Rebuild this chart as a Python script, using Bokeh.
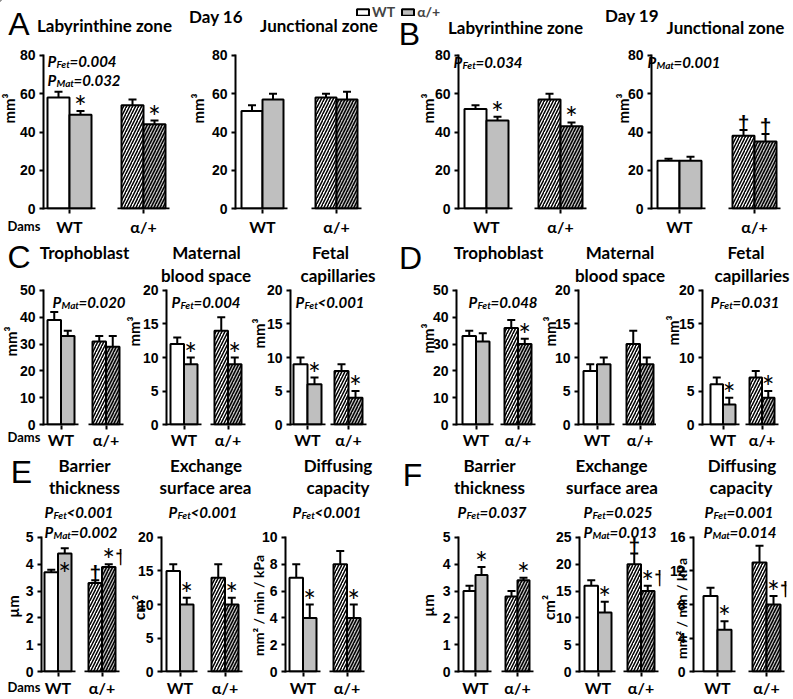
import math
from bokeh.plotting import figure
from bokeh.models import (Range1d, FixedTicker, Label, ColumnDataSource, Whisker,
                          TeeHead, Legend, LegendItem)
from bokeh.layouts import column, row
from bokeh.embed import file_html
from bokeh.resources import INLINE
from bokeh.core.properties import value

# ============================ DATA ============================
dam_groups = ["WT", "α/+"]          # x tick labels (genotype of dams)
fetal_genotypes = ["WT", "α/+"]     # legend (genotype of fetuses)

# bar order: [WT dam/WT fetus, WT dam/α fetus, α dam/WT fetus, α dam/α fetus]
d16_lab_mean = [58, 49, 54, 44]
d16_lab_sem = [3, 2, 3, 2]
d16_lab_sig = ["", "*", "", "*"]
d16_lab_p = [("Fet", "=0.004"), ("Mat", "=0.032")]

d16_jz_mean = [51, 57, 58, 57]
d16_jz_sem = [3, 3, 2, 4]
d16_jz_sig = ["", "", "", ""]
d16_jz_p = []

d19_lab_mean = [52, 46, 57, 43]
d19_lab_sem = [2, 2, 3, 2]
d19_lab_sig = ["", "*", "", "*"]
d19_lab_p = [("Fet", "=0.034")]

d19_jz_mean = [25, 25, 38, 35]
d19_jz_sem = [1, 2, 3, 4]
d19_jz_sig = ["", "", "†", "†"]
d19_jz_p = [("Mat", "=0.001")]

d16_tro_mean = [39, 33, 31, 29]
d16_tro_sem = [3, 2, 2, 4]
d16_tro_sig = ["", "", "", ""]
d16_tro_p = [("Mat", "=0.020")]

d16_mbs_mean = [12, 9, 14, 9]
d16_mbs_sem = [1, 1, 2, 1]
d16_mbs_sig = ["", "*", "", "*"]
d16_mbs_p = [("Fet", "=0.004")]

d16_fc_mean = [9, 6, 8, 4]
d16_fc_sem = [1, 1, 1, 1]
d16_fc_sig = ["", "*", "", "*"]
d16_fc_p = [("Fet", "<0.001")]

d19_tro_mean = [33, 31, 36, 30]
d19_tro_sem = [2, 3, 3, 2]
d19_tro_sig = ["", "", "", "*"]
d19_tro_p = [("Fet", "=0.048")]

d19_mbs_mean = [8, 9, 12, 9]
d19_mbs_sem = [1, 1, 2, 1]
d19_mbs_sig = ["", "", "", ""]
d19_mbs_p = []

d19_fc_mean = [6, 3, 7, 4]
d19_fc_sem = [1, 1, 1, 1]
d19_fc_sig = ["", "*", "", "*"]
d19_fc_p = [("Fet", "=0.031")]

d16_bt_mean = [3.7, 4.4, 3.3, 3.9]
d16_bt_sem = [0.1, 0.2, 0.1, 0.1]
d16_bt_sig = ["", "*", "†", "*†"]
d16_bt_p = [("Fet", "<0.001"), ("Mat", "=0.002")]

d16_sa_mean = [15, 10, 14, 10]
d16_sa_sem = [1, 1, 2, 1]
d16_sa_sig = ["", "*", "", "*"]
d16_sa_p = [("Fet", "<0.001")]

d16_dc_mean = [7, 4, 8, 4]
d16_dc_sem = [1, 1, 1, 1]
d16_dc_sig = ["", "*", "", "*"]
d16_dc_p = [("Fet", "<0.001")]

d19_bt_mean = [3.0, 3.6, 2.8, 3.4]
d19_bt_sem = [0.2, 0.3, 0.2, 0.1]
d19_bt_sig = ["", "*", "", "*"]
d19_bt_p = [("Fet", "=0.037")]

d19_sa_mean = [16, 11, 20, 15]
d19_sa_sem = [1, 2, 2, 1]
d19_sa_sig = ["", "*", "†", "*†"]
d19_sa_p = [("Fet", "=0.025"), ("Mat", "=0.013")]

d19_dc_mean = [9, 5, 13, 8]
d19_dc_sem = [1, 1, 2, 1]
d19_dc_sig = ["", "*", "", "*†"]
d19_dc_p = [("Fet", "=0.001"), ("Mat", "=0.014")]

ticks_zone = [0, 20, 40, 60, 80]
ticks_tro = [0, 10, 20, 30, 40, 50]
ticks_20 = [0, 5, 10, 15, 20]
ticks_bt = [0, 1, 2, 3, 4, 5]
ticks_dc16 = [0, 2, 4, 6, 8, 10]
ticks_sa19 = [0, 5, 10, 15, 20, 25]
ticks_dc19 = [0, 4, 8, 12, 16]

unit_vol = "mm³"
unit_bt = "µm"
unit_sa = "cm²"
unit_dc = "mm² / min / kPa"

# ============================ STYLE / LAYOUT ============================
FONT = "Lato"
TICK_FONT = "Liberation Sans"
LETTER_FONT = "Liberation Sans"
FETAL_FILL = ["white", "#bfbfbf"]
DAM_HATCH = [" ", "/"]
SUBW = {"Fet": 13, "Mat": 17}
W, H = 793, 699

ROWS = {
    1: dict(top=0, bottom=238, ymax_px=55, y0_px=212, xstand=3),
    2: dict(top=238, bottom=451, ymax_px=290, y0_px=428, xstand=0),
    3: dict(top=451, bottom=699, ymax_px=537, y0_px=675, xstand=1),
}

LAYOUT = {
    "A1": dict(row=1, fl=0, fr=185, ax=43, frr=170, x0=4, w=22, gap=30, pv=[(47, 60), (47, 79)], yl=(8, 108), dams=225),
    "A2": dict(row=1, fl=185, fr=394, ax=235, frr=364, x0=6, w=21, gap=32, pv=[], yl=(197.5, 108)),
    "B1": dict(row=1, fl=394, fr=595, ax=458, frr=588, x0=6, w=22, gap=30, pv=[(453, 61)], yl=(427, 108)),
    "B2": dict(row=1, fl=595, fr=793, ax=651, frr=781, x0=6, w=22, gap=31, pv=[(647, 61)], yl=(622.5, 108)),
    "C1": dict(row=2, fl=0, fr=125, ax=43, frr=125, x0=4, w=13.5, gap=18, pv=[(52, 301)], yl=(10, 341), dams=436.5),
    "C2": dict(row=2, fl=125, fr=250, ax=166, frr=248, x0=4, w=13.5, gap=17, pv=[(171, 301)], yl=(133, 331)),
    "C3": dict(row=2, fl=250, fr=393, ax=290, frr=369, x0=3, w=14, gap=13, pv=[(295, 301)], yl=(258.5, 333)),
    "D1": dict(row=2, fl=393, fr=540, ax=456, frr=536, x0=6, w=13.5, gap=15, pv=[(468, 301)], yl=(427, 338)),
    "D2": dict(row=2, fl=540, fr=656, ax=578, frr=656, x0=5, w=13.5, gap=16, pv=[], yl=(549.5, 331)),
    "D3": dict(row=2, fl=656, fr=793, ax=702, frr=781, x0=8, w=12.5, gap=14, pv=[(710, 301)], yl=(672, 330)),
    "E1": dict(row=3, fl=0, fr=132, ax=41, frr=121, x0=3, w=13.5, gap=17, pv=[(44, 511), (44, 531)], yl=(12.5, 606), dams=686,
               star_dy={1: 30}),
    "E2": dict(row=3, fl=132, fr=252, ax=161, frr=244, x0=5, w=13.5, gap=18, pv=[(168, 511)], yl=(138.5, 607)),
    "E3": dict(row=3, fl=252, fr=395, ax=285, frr=367, x0=4, w=13.5, gap=17, pv=[(292, 511)], yl=(258, 605), ylsize=14),
    "F1": dict(row=3, fl=395, fr=543, ax=458, frr=535, x0=5, w=12, gap=18, pv=[(457, 511)], yl=(427.5, 605)),
    "F2": dict(row=3, fl=543, fr=666, ax=579, frr=660, x0=5, w=13.5, gap=16, pv=[(583, 511), (583, 531)], yl=(548.5, 607)),
    "F3": dict(row=3, fl=666, fr=793, ax=693, frr=786, x0=10, w=14, gap=21, pv=[(704, 511), (703, 531)], yl=(681, 608), ylsize=14),
}

PANELS = [
    ("A1", d16_lab_mean, d16_lab_sem, d16_lab_sig, d16_lab_p, ticks_zone, unit_vol),
    ("A2", d16_jz_mean, d16_jz_sem, d16_jz_sig, d16_jz_p, ticks_zone, unit_vol),
    ("B1", d19_lab_mean, d19_lab_sem, d19_lab_sig, d19_lab_p, ticks_zone, unit_vol),
    ("B2", d19_jz_mean, d19_jz_sem, d19_jz_sig, d19_jz_p, ticks_zone, unit_vol),
    ("C1", d16_tro_mean, d16_tro_sem, d16_tro_sig, d16_tro_p, ticks_tro, unit_vol),
    ("C2", d16_mbs_mean, d16_mbs_sem, d16_mbs_sig, d16_mbs_p, ticks_20, unit_vol),
    ("C3", d16_fc_mean, d16_fc_sem, d16_fc_sig, d16_fc_p, ticks_20, unit_vol),
    ("D1", d19_tro_mean, d19_tro_sem, d19_tro_sig, d19_tro_p, ticks_tro, unit_vol),
    ("D2", d19_mbs_mean, d19_mbs_sem, d19_mbs_sig, d19_mbs_p, ticks_20, unit_vol),
    ("D3", d19_fc_mean, d19_fc_sem, d19_fc_sig, d19_fc_p, ticks_20, unit_vol),
    ("E1", d16_bt_mean, d16_bt_sem, d16_bt_sig, d16_bt_p, ticks_bt, unit_bt),
    ("E2", d16_sa_mean, d16_sa_sem, d16_sa_sig, d16_sa_p, ticks_20, unit_sa),
    ("E3", d16_dc_mean, d16_dc_sem, d16_dc_sig, d16_dc_p, ticks_dc16, unit_dc),
    ("F1", d19_bt_mean, d19_bt_sem, d19_bt_sig, d19_bt_p, ticks_bt, unit_bt),
    ("F2", d19_sa_mean, d19_sa_sem, d19_sa_sig, d19_sa_p, ticks_sa19, unit_sa),
    ("F3", d19_dc_mean, d19_dc_sem, d19_dc_sig, d19_dc_p, ticks_dc19, unit_dc),
]

# (text, x, y, kind)  kind: "L" panel letter, "T" title
TEXTS = [
    ("A", 18.5, 23.5, "L"), ("Labyrinthine zone", 104, 25, "T"),
    ("Day 16", 215.5, 16, "T"), ("Junctional zone", 318.5, 25, "T"),
    ("B", 409, 33.5, "L"), ("Labyrinthine zone", 515, 27, "T"),
    ("Day 19", 631.5, 15, "T"), ("Junctional zone", 725, 27, "T"),
    ("C", 18.5, 256.5, "L"), ("Trophoblast", 84, 252, "T"),
    ("Maternal", 206, 252, "T"), ("blood space", 205.5, 275, "T"),
    ("Fetal", 330, 252, "T"), ("capillaries", 337.5, 275, "T"),
    ("D", 410, 257.5, "L"), ("Trophoblast", 498, 252, "T"),
    ("Maternal", 619.5, 252, "T"), ("blood space", 619.5, 275, "T"),
    ("Fetal", 745.5, 252, "T"), ("capillaries", 751.5, 275, "T"),
    ("E", 21, 471, "L"), ("Barrier", 84, 465, "T"), ("thickness", 84, 487, "T"),
    ("Exchange", 205.5, 465, "T"), ("surface area", 205, 487, "T"),
    ("Diffusing", 337.5, 465, "T"), ("capacity", 337.5, 487, "T"),
    ("F", 412, 474, "L"), ("Barrier", 489, 465, "T"), ("thickness", 489, 487, "T"),
    ("Exchange", 611, 465, "T"), ("surface area", 611.5, 487, "T"),
    ("Diffusing", 741.5, 465, "T"), ("capacity", 740.5, 487, "T"),
]

# transparent full-page layer for all free texts (data units = page pixels)
ov = figure(width=W, height=H, x_range=Range1d(0, W), y_range=Range1d(H, 0),
            min_border=0, x_axis_type=None, y_axis_type=None, toolbar_location=None,
            output_backend="svg", title=None, outline_line_color=None,
            background_fill_color=None, border_fill_color=None,
            styles={"position": "absolute", "left": "0px", "top": "0px"})


def label(text, x, y, size, style="bold", font=FONT, align="center",
          baseline="middle", angle=0.0):
    ov.add_layout(Label(x=x, y=y, text=text, text_font=font,
                        text_font_size=f"{size}px", text_font_style=style,
                        text_align=align, text_baseline=baseline, angle=angle,
                        text_color="black"))


def pval(x, yb, sub, rest):
    label("P", x, yb, 15, "bold italic", align="left", baseline="alphabetic")
    label(sub, x + 9, yb + 3.5, 10, "bold italic", align="left", baseline="alphabetic")
    label(rest, x + 9 + SUBW[sub], yb, 15, "bold italic", align="left", baseline="alphabetic")


figs = {}


def build(key, mean, sem, sig, pvals, yticks, unit):
    L = LAYOUT[key]
    R = ROWS[L["row"]]
    ymax = yticks[-1]
    scale = (R["y0_px"] - R["ymax_px"]) / ymax
    ft, fb = R["ymax_px"] - 1, R["y0_px"] + 1
    p = figure(width=L["fr"] - L["fl"], height=R["bottom"] - R["top"],
               x_range=Range1d(0, L["frr"] - L["ax"]),
               y_range=Range1d(-1 / scale, ymax + 1 / scale),
               min_border_left=L["ax"] - L["fl"], min_border_right=L["fr"] - L["frr"],
               min_border_top=ft - R["top"], min_border_bottom=R["bottom"] - fb,
               toolbar_location=None, output_backend="svg", title=None,
               background_fill_color="white", border_fill_color="white",
               outline_line_color=None)
    figs[key] = p
    p.grid.visible = False

    w, x0, gap = L["w"], L["x0"], L["gap"]
    step = 2 * w + gap
    xs = [x0 + (i % 2 + 0.5) * w + (i // 2) * step for i in range(len(mean))]
    centers = [x0 + w + g * step for g in range(len(dam_groups))]
    upper = [m + e for m, e in zip(mean, sem)]
    src = ColumnDataSource(dict(
        x=xs, top=mean, upper=upper,
        fill=[FETAL_FILL[i % 2] for i in range(len(mean))],
        hatch=[DAM_HATCH[i // 2] for i in range(len(mean))]))
    p.vbar(x="x", top="top", bottom=0, width=w, source=src,
           fill_color="fill", hatch_pattern="hatch", hatch_color="black",
           hatch_weight=1.5, hatch_scale=6, line_color="black", line_width=2)
    p.add_layout(Whisker(source=src, base="x", upper="upper", lower="top",
                         dimension="height", line_color="black", line_width=2,
                         upper_head=TeeHead(size=8, line_color="black", line_width=2),
                         lower_head=None))
    # broken baseline under each dam group
    bx0 = [0 if g == 0 else x0 + g * step - 4 for g in range(len(dam_groups))]
    bx1 = [x0 + g * step + 2 * w + 4 for g in range(len(dam_groups))]
    p.segment(x0=bx0, x1=bx1, y0=[0] * len(bx0), y1=[0] * len(bx0),
              line_color="black", line_width=2)

    # significance marks
    star_dy = L.get("star_dy", {})
    sx, sy, sdy, dx, dy = [], [], [], [], []
    for i, s in enumerate(sig):
        if "*" in s:
            sx.append(xs[i]); sy.append(upper[i]); sdy.append(-5 + star_dy.get(i, 0))
        if "†" in s:
            dx.append(xs[i] + (12 if "*" in s else 0)); dy.append(upper[i])
    if sx:
        ssrc = ColumnDataSource(dict(x=sx, y=sy, dy=sdy, t=["*"] * len(sx)))
        p.text(x="x", y="y", text="t", y_offset="dy", source=ssrc,
               text_font=value(FONT), text_font_size="30px", text_align="center",
               text_baseline="middle", text_color="black")
    if dx:
        p.text(x=dx, y=dy, text=["†"] * len(dx), text_font=value(TICK_FONT),
               text_font_size="21px", text_font_style="bold", text_align="center",
               text_baseline="middle", y_offset=-8, text_color="black")

    yax = p.yaxis[0]
    yax.ticker = FixedTicker(ticks=yticks)
    yax.axis_line_width = 2
    yax.axis_line_color = "black"
    yax.major_tick_line_width = 2
    yax.major_tick_out = 4
    yax.major_tick_in = 0
    yax.minor_tick_line_color = None
    yax.major_label_text_font = TICK_FONT
    yax.major_label_text_font_style = "bold"
    yax.major_label_text_font_size = "14px"
    yax.major_label_text_color = "black"
    yax.major_label_standoff = L.get("ystand", 4)

    xax = p.xaxis[0]
    xax.ticker = FixedTicker(ticks=centers)
    xax.major_label_overrides = {c: n for c, n in zip(centers, dam_groups)}
    xax.axis_line_color = None
    xax.major_tick_line_width = 2
    xax.major_tick_out = 4
    xax.major_tick_in = 0
    xax.minor_tick_line_color = None
    xax.major_label_text_font = FONT
    xax.major_label_text_font_style = "bold"
    xax.major_label_text_font_size = "16px"
    xax.major_label_text_color = "black"
    xax.major_label_standoff = R["xstand"]

    for (px, pb), (sub, rest) in zip(L["pv"], pvals):
        pval(px, pb, sub, rest)
    label(unit, L["yl"][0], L["yl"][1], L.get("ylsize", 15), angle=math.pi / 2)
    if "dams" in L:
        label("Dams", 7, L["dams"], 13, align="left")
    return p


for spec in PANELS:
    build(*spec)

for text, x, y, kind in TEXTS:
    if kind == "L":
        label(text, x, y, 32, style="normal", font=LETTER_FONT)
    else:
        label(text, x, y, 17)

# legend (fetal genotype): swatches come from an off-screen bar renderer
swatch = ov.vbar(x=[-50, -50], top=[-20, -20], bottom=[-30, -30], width=5,
                 fill_color=FETAL_FILL, line_color="black", line_width=2)
legend = Legend(items=[LegendItem(label=value(g), renderers=[swatch], index=i)
                       for i, g in enumerate(fetal_genotypes)],
                location=(355, H - 20), orientation="horizontal",
                glyph_width=15, glyph_height=8, label_standoff=2, padding=0,
                margin=0, spacing=5, border_line_color=None, background_fill_alpha=0,
                label_text_font=FONT, label_text_font_style="bold",
                label_text_font_size="14px", label_height=10, label_width=10)
ov.add_layout(legend)

row1 = row([figs[k] for k in ["A1", "A2", "B1", "B2"]], spacing=0)
row2 = row([figs[k] for k in ["C1", "C2", "C3", "D1", "D2", "D3"]], spacing=0)
row3 = row([figs[k] for k in ["E1", "E2", "E3", "F1", "F2", "F3"]], spacing=0)
layout = column([row1, row2, row3, ov], spacing=0)

open("out.html", "w").write(file_html(layout, INLINE, title="Placental morphometry"))
